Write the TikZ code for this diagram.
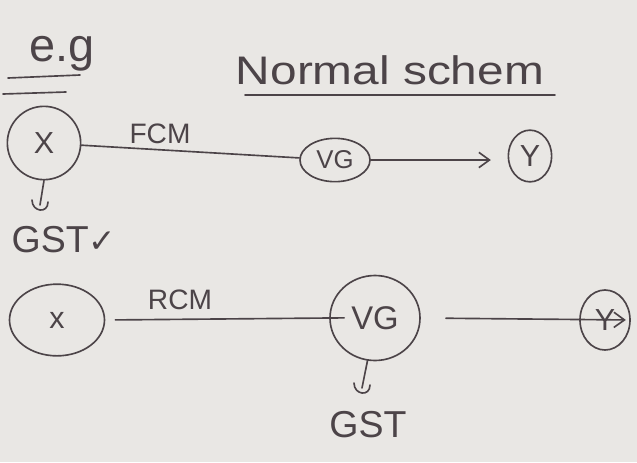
\documentclass[tikz,border=0pt]{standalone}
\usepackage{fontspec}
\setmainfont{Liberation Sans}
\newfontfamily\tickfont{DejaVu Sans}
\usetikzlibrary{arrows.meta,positioning,shapes.geometric}

\definecolor{paper}{RGB}{233,231,228}
\definecolor{ink}{RGB}{76,68,72}

\begin{document}
\begin{tikzpicture}[
    x=0.03cm, y=-0.03cm,
    pen/.style={draw=ink, line width=1.4pt, line cap=round},
    bubble/.style={ellipse, draw=ink, line width=1.4pt, inner sep=0pt,
                   text=ink, font=\fontsize{26}{28}\selectfont},
    note/.style={text=ink, inner sep=0pt},
    tip/.style={-{Straight Barb[length=9pt,width=13pt,line width=1.4pt]}}
]

\useasboundingbox[fill=paper] (0,0) rectangle (637,462);

% heading
\node[note, font=\fontsize{40}{42}\selectfont] (eg) at (62,54) {e.g};
\draw[pen] (8,78) -- (80,75);
\draw[pen] (3,94) -- (66,92);

\node[note, font=\fontsize{34}{36}\selectfont, xscale=1.2, transform shape]
    (title) at (390,70) {Normal schem};
\draw[pen] (245,95) -- (555,95);

% forward charge row
\node[bubble, minimum width=2.2cm, minimum height=2.2cm] (x1) at (44,143) {X};
\node[bubble, minimum width=2.1cm, minimum height=1.3cm,
      font=\fontsize{22}{24}\selectfont] (vg1) at (335,160) {VG};
\node[bubble, minimum width=1.3cm, minimum height=1.55cm] (y1) at (530,156) {Y};

\node[note, font=\fontsize{24}{26}\selectfont] (fcm) at (160,134) {FCM};

\draw[pen] (x1) -- (vg1);
\draw[pen, tip, shorten >=0.5cm] (vg1.east) -- (vg1.east -| y1.west);

\coordinate (hk1) at (40,205);
\draw[pen] (x1.south) -- (hk1);
\draw[pen] (hk1) ++(-8,-5) .. controls +(0,12) and +(0,12) .. +(16,2);

\node[note, font=\fontsize{32}{34}\selectfont] (gst1) at (64,240)
    {GST{\tickfont\fontsize{28}{30}\selectfont ✓}};

% reverse charge row
\node[bubble, minimum width=2.85cm, minimum height=2.15cm] (x2) at (57,320) {x};
\node[bubble, minimum width=2.7cm, minimum height=2.55cm,
      font=\fontsize{28}{30}\selectfont] (vg2) at (375,318) {VG};
\node[bubble, minimum width=1.5cm, minimum height=1.8cm] (y2) at (605,320) {Y};

\node[note, font=\fontsize{24}{26}\selectfont] (rcm) at (180,300) {RCM};

\draw[pen, shorten <=0.3cm, shorten >=-0.45cm] (x2.east) -- (vg2.west);
\draw[pen, tip, shorten <=0.75cm, shorten >=0.15cm] (vg2.east) -- (y2.east);

\coordinate (hk2) at (362,388);
\draw[pen] (vg2.260) -- (hk2);
\draw[pen] (hk2) ++(-8,-5) .. controls +(0,12) and +(0,12) .. +(16,2);

\node[note, font=\fontsize{32}{34}\selectfont] (gst2) at (368,425) {GST};

\end{tikzpicture}
\end{document}
